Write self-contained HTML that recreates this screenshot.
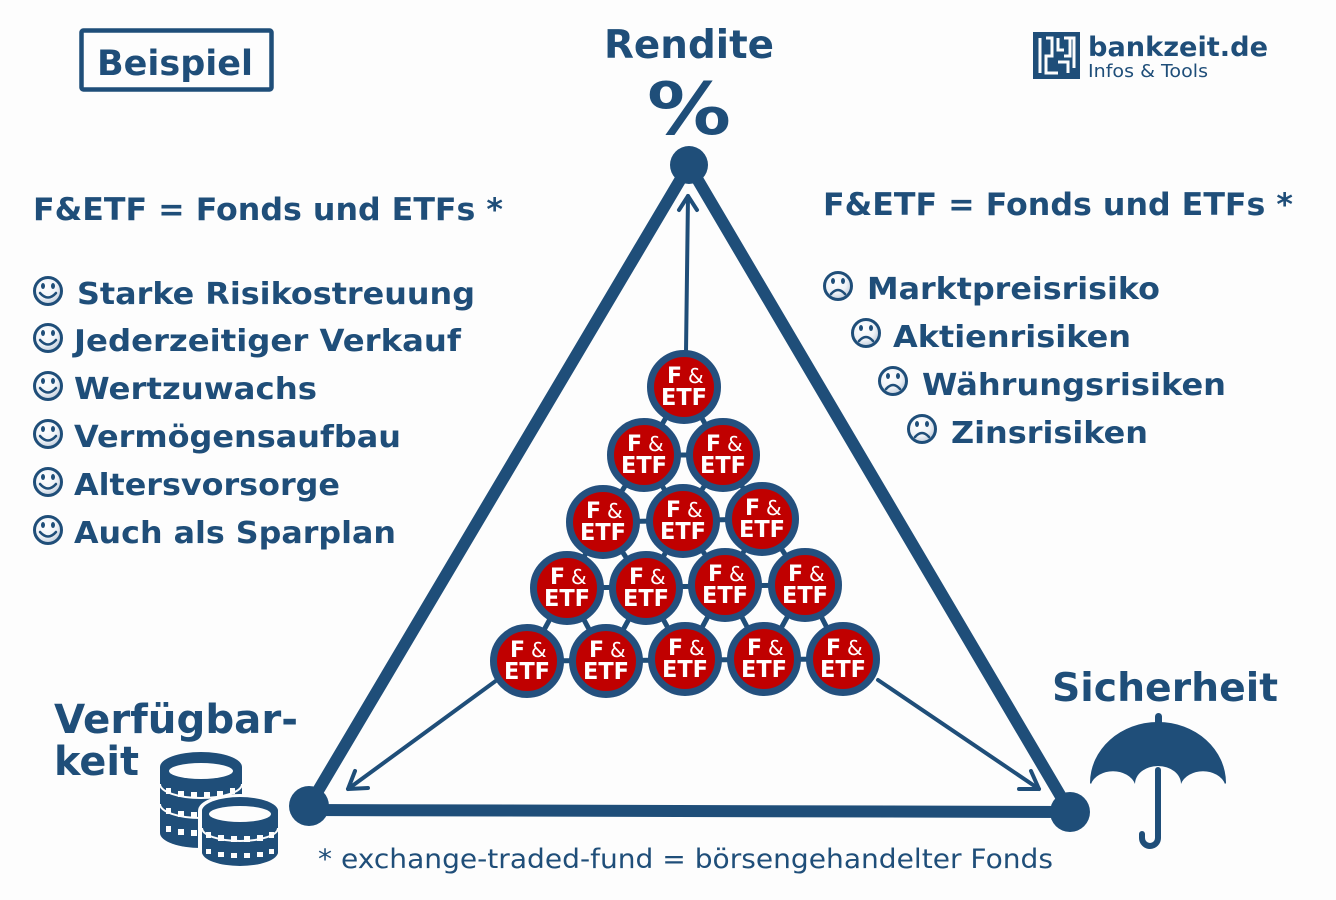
<!DOCTYPE html>
<html>
<head>
<meta charset="utf-8">
<style>
html,body{margin:0;padding:0;background:#fdfdfd;}
svg{display:block;}
text{font-family:"DejaVu Sans","Liberation Sans",sans-serif;}
</style>
</head>
<body>
<svg width="1336" height="900" viewBox="0 0 1336 900" xmlns="http://www.w3.org/2000/svg">
<defs>
<radialGradient id="sm" cx="0.4" cy="0.35" r="0.7">
<stop offset="0" stop-color="#ffffff"/>
<stop offset="0.6" stop-color="#eef2f7"/>
<stop offset="1" stop-color="#b9c6d6"/>
</radialGradient>
</defs>
<rect width="1336" height="900" fill="#fdfdfd"/>

<!-- Beispiel box -->
<rect x="81.5" y="30.5" width="190" height="59" rx="2" fill="none" stroke="#1f4e79" stroke-width="4.5"/>
<text x="97" y="75" font-size="35" font-weight="bold" fill="#1f4e79" textLength="156" lengthAdjust="spacingAndGlyphs">Beispiel</text>

<!-- Rendite -->
<text x="604" y="58" font-size="39" font-weight="bold" fill="#1f4e79" textLength="170" lengthAdjust="spacingAndGlyphs">Rendite</text>
<text x="647" y="134" font-size="72" font-weight="bold" fill="#1f4e79" textLength="84" lengthAdjust="spacingAndGlyphs">%</text>

<!-- Logo -->
<g>
<rect x="1033" y="32" width="47" height="47" fill="#1f4e79"/>
<g stroke="#fdfdfd" stroke-width="3" fill="none">
<path d="M1040,38 V73"/>
<path d="M1046,38 H1052 V56 H1046 V73 H1058"/>
<path d="M1058,38 V50 H1064"/>
<path d="M1058,62 H1068 V73"/>
<path d="M1070,38 V56 H1064"/>
<path d="M1064,38 H1074 V68"/>
</g>
</g>
<text x="1088" y="56" font-size="27" font-weight="bold" fill="#1f4e79" textLength="180" lengthAdjust="spacingAndGlyphs">bankzeit.de</text>
<text x="1088" y="77" font-size="18" fill="#1f4e79" textLength="120" lengthAdjust="spacingAndGlyphs">Infos &amp; Tools</text>

<!-- Headings -->
<text x="33" y="220" font-size="31" font-weight="bold" fill="#1f4e79" textLength="470" lengthAdjust="spacingAndGlyphs">F&amp;ETF = Fonds und ETFs *</text>
<text x="823" y="215" font-size="31" font-weight="bold" fill="#1f4e79" textLength="470" lengthAdjust="spacingAndGlyphs">F&amp;ETF = Fonds und ETFs *</text>

<!-- Left list smileys -->
<g stroke="#1f4e79" stroke-width="3" fill="url(#sm)">
<circle cx="48" cy="291" r="13.5"/>
<circle cx="48" cy="338" r="13.5"/>
<circle cx="48" cy="386" r="13.5"/>
<circle cx="48" cy="434" r="13.5"/>
<circle cx="48" cy="482" r="13.5"/>
<circle cx="48" cy="530" r="13.5"/>
</g>
<g fill="#1f4e79">
<ellipse cx="43" cy="286" rx="2" ry="3"/><ellipse cx="53" cy="286" rx="2" ry="3"/>
<ellipse cx="43" cy="333" rx="2" ry="3"/><ellipse cx="53" cy="333" rx="2" ry="3"/>
<ellipse cx="43" cy="381" rx="2" ry="3"/><ellipse cx="53" cy="381" rx="2" ry="3"/>
<ellipse cx="43" cy="429" rx="2" ry="3"/><ellipse cx="53" cy="429" rx="2" ry="3"/>
<ellipse cx="43" cy="477" rx="2" ry="3"/><ellipse cx="53" cy="477" rx="2" ry="3"/>
<ellipse cx="43" cy="525" rx="2" ry="3"/><ellipse cx="53" cy="525" rx="2" ry="3"/>
</g>
<g stroke="#1f4e79" stroke-width="2.5" fill="none" stroke-linecap="round">
<path d="M40,293 Q48,302 56,293"/>
<path d="M40,340 Q48,349 56,340"/>
<path d="M40,388 Q48,397 56,388"/>
<path d="M40,436 Q48,445 56,436"/>
<path d="M40,484 Q48,493 56,484"/>
<path d="M40,532 Q48,541 56,532"/>
</g>
<g font-size="30" font-weight="bold" fill="#1f4e79">
<text x="77" y="304" textLength="398" lengthAdjust="spacingAndGlyphs">Starke Risikostreuung</text>
<text x="74" y="351" textLength="387" lengthAdjust="spacingAndGlyphs">Jederzeitiger Verkauf</text>
<text x="74" y="399" textLength="243" lengthAdjust="spacingAndGlyphs">Wertzuwachs</text>
<text x="74" y="447" textLength="327" lengthAdjust="spacingAndGlyphs">Vermögensaufbau</text>
<text x="74" y="495" textLength="266" lengthAdjust="spacingAndGlyphs">Altersvorsorge</text>
<text x="74" y="543" textLength="322" lengthAdjust="spacingAndGlyphs">Auch als Sparplan</text>
</g>

<!-- Right list sad faces -->
<g stroke="#1f4e79" stroke-width="3" fill="url(#sm)">
<circle cx="838" cy="286" r="13.5"/>
<circle cx="866" cy="333" r="13.5"/>
<circle cx="893" cy="381" r="13.5"/>
<circle cx="922" cy="429" r="13.5"/>
</g>
<g fill="#1f4e79">
<ellipse cx="833" cy="281" rx="2" ry="3"/><ellipse cx="843" cy="281" rx="2" ry="3"/>
<ellipse cx="861" cy="328" rx="2" ry="3"/><ellipse cx="871" cy="328" rx="2" ry="3"/>
<ellipse cx="888" cy="376" rx="2" ry="3"/><ellipse cx="898" cy="376" rx="2" ry="3"/>
<ellipse cx="917" cy="424" rx="2" ry="3"/><ellipse cx="927" cy="424" rx="2" ry="3"/>
</g>
<g stroke="#1f4e79" stroke-width="2.5" fill="none" stroke-linecap="round">
<path d="M831,294 Q838,286 845,294"/>
<path d="M859,341 Q866,333 873,341"/>
<path d="M886,389 Q893,381 900,389"/>
<path d="M915,437 Q922,429 929,437"/>
</g>
<g font-size="30" font-weight="bold" fill="#1f4e79">
<text x="867" y="299" textLength="293" lengthAdjust="spacingAndGlyphs">Marktpreisrisiko</text>
<text x="893" y="347" textLength="238" lengthAdjust="spacingAndGlyphs">Aktienrisiken</text>
<text x="922" y="395" textLength="304" lengthAdjust="spacingAndGlyphs">Währungsrisiken</text>
<text x="951" y="443" textLength="197" lengthAdjust="spacingAndGlyphs">Zinsrisiken</text>
</g>

<!-- Triangle -->
<g stroke="#1f4e79" stroke-width="12" stroke-linecap="round" fill="none">
<line x1="689" y1="165" x2="309" y2="806"/>
<line x1="689" y1="165" x2="1070" y2="812"/>
<line x1="309" y1="810" x2="1070" y2="812"/>
</g>
<g fill="#1f4e79">
<circle cx="689" cy="165" r="19"/>
<circle cx="309" cy="806" r="20"/>
<circle cx="1070" cy="812" r="20"/>
</g>

<!-- Arrows -->
<g stroke="#1f4e79" stroke-width="4" fill="none" stroke-linecap="round" stroke-linejoin="round">
<line x1="686" y1="352" x2="688" y2="196"/>
<polyline points="679,210 688,196 697,210"/>
<line x1="497" y1="680" x2="348" y2="789"/>
<polyline points="368,788 348,789 355,771"/>
<line x1="878" y1="680" x2="1039" y2="789"/>
<polyline points="1019,789 1039,789 1031,771"/>
</g>

<!-- Connectors between circles -->
<g stroke="#1f4e79" stroke-width="5">
<line x1="684" y1="387" x2="644" y2="455"/><line x1="684" y1="387" x2="723" y2="455"/>
<line x1="644" y1="455" x2="723" y2="455"/>
<line x1="644" y1="455" x2="603" y2="522"/><line x1="644" y1="455" x2="683" y2="521"/>
<line x1="723" y1="455" x2="683" y2="521"/><line x1="723" y1="455" x2="762" y2="519"/>
<line x1="603" y1="522" x2="762" y2="519"/>
<line x1="603" y1="522" x2="567" y2="588"/><line x1="603" y1="522" x2="646" y2="588"/>
<line x1="683" y1="521" x2="646" y2="588"/><line x1="683" y1="521" x2="725" y2="585"/>
<line x1="762" y1="519" x2="725" y2="585"/><line x1="762" y1="519" x2="805" y2="585"/>
<line x1="567" y1="588" x2="805" y2="585"/>
<line x1="567" y1="588" x2="527" y2="661"/><line x1="567" y1="588" x2="606" y2="661"/>
<line x1="646" y1="588" x2="606" y2="661"/><line x1="646" y1="588" x2="685" y2="659"/>
<line x1="725" y1="585" x2="685" y2="659"/><line x1="725" y1="585" x2="764" y2="659"/>
<line x1="805" y1="585" x2="764" y2="659"/><line x1="805" y1="585" x2="843" y2="659"/>
<line x1="527" y1="661" x2="843" y2="659"/>
</g>

<!-- Circles -->
<g fill="#c00000" stroke="#24507e" stroke-width="7">
<circle cx="684" cy="387" r="33.5"/>
<circle cx="644" cy="455" r="33.5"/><circle cx="723" cy="455" r="33.5"/>
<circle cx="603" cy="522" r="33.5"/><circle cx="683" cy="521" r="33.5"/><circle cx="762" cy="519" r="33.5"/>
<circle cx="567" cy="588" r="33.5"/><circle cx="646" cy="588" r="33.5"/><circle cx="725" cy="585" r="33.5"/><circle cx="805" cy="585" r="33.5"/>
<circle cx="527" cy="661" r="33.5"/><circle cx="606" cy="661" r="33.5"/><circle cx="685" cy="659" r="33.5"/><circle cx="764" cy="659" r="33.5"/><circle cx="843" cy="659" r="33.5"/>
</g>
<g fill="#ffffff">
<g font-size="22" font-weight="bold">
<text x="667" y="383">F</text>
<text x="627" y="451">F</text><text x="706" y="451">F</text>
<text x="586" y="518">F</text><text x="666" y="517">F</text><text x="745" y="515">F</text>
<text x="550" y="584">F</text><text x="629" y="584">F</text><text x="708" y="581">F</text><text x="788" y="581">F</text>
<text x="510" y="657">F</text><text x="589" y="657">F</text><text x="668" y="655">F</text><text x="747" y="655">F</text><text x="826" y="655">F</text>
</g>
<g font-size="20">
<text x="688" y="383">&amp;</text>
<text x="648" y="451">&amp;</text><text x="727" y="451">&amp;</text>
<text x="607" y="518">&amp;</text><text x="687" y="517">&amp;</text><text x="766" y="515">&amp;</text>
<text x="571" y="584">&amp;</text><text x="650" y="584">&amp;</text><text x="729" y="581">&amp;</text><text x="809" y="581">&amp;</text>
<text x="531" y="657">&amp;</text><text x="610" y="657">&amp;</text><text x="689" y="655">&amp;</text><text x="768" y="655">&amp;</text><text x="847" y="655">&amp;</text>
</g>
<g font-size="23" font-weight="bold" text-anchor="middle">
<text x="684" y="405" textLength="46" lengthAdjust="spacingAndGlyphs">ETF</text>
<text x="644" y="473" textLength="46" lengthAdjust="spacingAndGlyphs">ETF</text><text x="723" y="473" textLength="46" lengthAdjust="spacingAndGlyphs">ETF</text>
<text x="603" y="540" textLength="46" lengthAdjust="spacingAndGlyphs">ETF</text><text x="683" y="539" textLength="46" lengthAdjust="spacingAndGlyphs">ETF</text><text x="762" y="537" textLength="46" lengthAdjust="spacingAndGlyphs">ETF</text>
<text x="567" y="606" textLength="46" lengthAdjust="spacingAndGlyphs">ETF</text><text x="646" y="606" textLength="46" lengthAdjust="spacingAndGlyphs">ETF</text><text x="725" y="603" textLength="46" lengthAdjust="spacingAndGlyphs">ETF</text><text x="805" y="603" textLength="46" lengthAdjust="spacingAndGlyphs">ETF</text>
<text x="527" y="679" textLength="46" lengthAdjust="spacingAndGlyphs">ETF</text><text x="606" y="679" textLength="46" lengthAdjust="spacingAndGlyphs">ETF</text><text x="685" y="677" textLength="46" lengthAdjust="spacingAndGlyphs">ETF</text><text x="764" y="677" textLength="46" lengthAdjust="spacingAndGlyphs">ETF</text><text x="843" y="677" textLength="46" lengthAdjust="spacingAndGlyphs">ETF</text>
</g>
</g>

<!-- Corner labels -->
<text x="1052" y="701" font-size="39" font-weight="bold" fill="#1f4e79" textLength="226" lengthAdjust="spacingAndGlyphs">Sicherheit</text>
<text x="54" y="733" font-size="40" font-weight="bold" fill="#1f4e79" textLength="244" lengthAdjust="spacingAndGlyphs">Verfügbar-</text>
<text x="54" y="775" font-size="40" font-weight="bold" fill="#1f4e79" textLength="85" lengthAdjust="spacingAndGlyphs">keit</text>

<!-- Footnote -->
<text x="318" y="868" font-size="27" fill="#1f4e79" textLength="735" lengthAdjust="spacingAndGlyphs">* exchange-traded-fund = börsengehandelter Fonds</text>

<!-- Coins -->
<g>
<!-- back stack -->
<path d="M160,767 A41,15 0 0 1 242,767 V833 A41,15 0 0 1 160,833 Z" fill="#1f4e79"/>
<ellipse cx="201" cy="771" rx="32" ry="8" fill="#fdfdfd"/>
<g fill="#fdfdfd">
<rect x="166" y="788" width="5" height="6"/><rect x="178" y="791" width="6" height="6"/><rect x="191" y="792" width="6" height="6"/><rect x="204" y="792" width="6" height="6"/><rect x="217" y="791" width="6" height="6"/><rect x="230" y="788" width="5" height="6"/>
<rect x="166" y="808" width="5" height="6"/><rect x="178" y="811" width="6" height="6"/><rect x="191" y="812" width="6" height="6"/>
<rect x="166" y="826" width="5" height="6"/><rect x="178" y="829" width="6" height="6"/><rect x="191" y="830" width="6" height="6"/>
</g>
<path d="M160,784 A41,14 0 0 0 242,784" stroke="#fdfdfd" stroke-width="2" fill="none"/>
<path d="M160,804 A41,14 0 0 0 242,804" stroke="#fdfdfd" stroke-width="2" fill="none"/>
<!-- front stack -->
<path d="M200,811 A40,15 0 0 1 280,811 V852 A40,15 0 0 1 200,852 Z" fill="#1f4e79" stroke="#fdfdfd" stroke-width="4"/>
<path d="M202,811 A38,14 0 0 1 278,811 V852 A38,14 0 0 1 202,852 Z" fill="#1f4e79"/>
<ellipse cx="240" cy="814" rx="31" ry="8" fill="#fdfdfd"/>
<g fill="#fdfdfd">
<rect x="206" y="832" width="5" height="6"/><rect x="218" y="835" width="6" height="6"/><rect x="231" y="836" width="6" height="6"/><rect x="244" y="836" width="6" height="6"/><rect x="257" y="835" width="6" height="6"/><rect x="269" y="832" width="5" height="6"/>
<rect x="206" y="849" width="5" height="5"/><rect x="218" y="852" width="6" height="5"/><rect x="231" y="853" width="6" height="5"/><rect x="244" y="853" width="6" height="5"/><rect x="257" y="852" width="6" height="5"/><rect x="269" y="849" width="5" height="5"/>
</g>
<path d="M202,828 A38,13 0 0 0 278,828" stroke="#fdfdfd" stroke-width="2" fill="none"/>
</g>

<!-- Umbrella -->
<g fill="#1f4e79">
<rect x="1155" y="713" width="7" height="14" rx="3.5"/>
<path d="M1090,783 A68,61 0 0 1 1226,783 L1225,784 A23,18 0 0 0 1181,784 A23,18 0 0 0 1135,784 A23,18 0 0 0 1091,784 Z"/>
</g>
<g stroke="#1f4e79" stroke-width="6" fill="none" stroke-linecap="round">
<path d="M1158,770 V838 A8,8 0 0 1 1142,838 V834"/>
</g>
</svg>
</body>
</html>
